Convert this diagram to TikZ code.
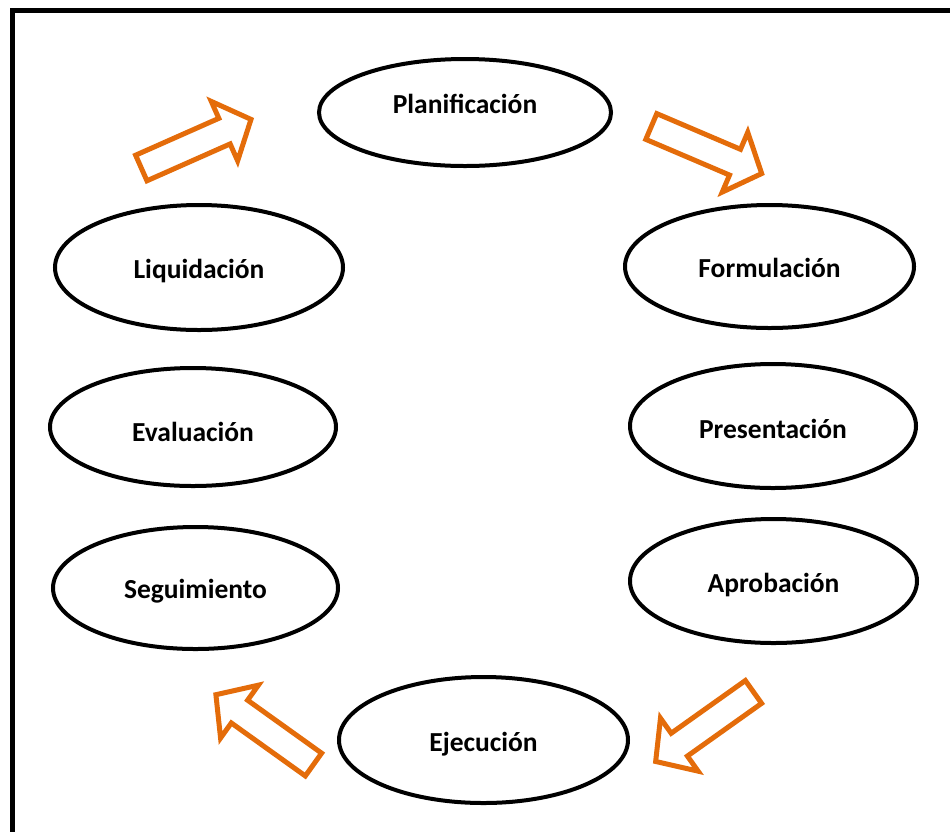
\documentclass[tikz,border=0pt]{standalone}
\usepackage{fontspec}
\setmainfont{Carlito}
\usetikzlibrary{shapes.geometric}
\definecolor{flowOrange}{HTML}{E46C0A}
\begin{document}
\begin{tikzpicture}[x=1pt,y=-1pt,
  phase/.style={ellipse, draw=black, line width=4pt, fill=white,
    inner sep=0pt, text height=22pt, text depth=0pt,
    font=\fontsize{27.5}{30}\selectfont\bfseries},
  flowline/.style={draw=flowOrange, fill=white, line width=5pt, line join=miter},
  flowarrow/.pic={
    \path[flowline] (2.5,-14) -- (93.5,-14) -- (93.5,-32.5) -- (122.5,0)
      -- (93.5,32.5) -- (93.5,14) -- (2.5,14) -- cycle;
  }]
  \useasboundingbox (0,0) rectangle (950,831);
  \clip (0,0) rectangle (950,831);

  % outer frame
  \draw[line width=5pt, line cap=rect] (12.5,840) -- (12.5,10.5) -- (960,10.5);

  % phases of the cycle
  \node[phase, minimum width=292pt, minimum height=107pt, text height=1pt]
    (plan) at (465,112.5) {Planificación};
  \node[phase, minimum width=289pt, minimum height=123pt] (form) at (769.5,266.5) {Formulación};
  \node[phase, minimum width=286pt, minimum height=124pt, text height=24pt]
    (pres) at (773,426) {Presentación};
  \node[phase, minimum width=287pt, minimum height=124pt, text height=23pt]
    (apro) at (773.5,581) {Aprobación};
  \node[phase, minimum width=289pt, minimum height=126pt] (ejec) at (483.5,740) {Ejecución};
  \node[phase, minimum width=285pt, minimum height=122pt, text height=20pt]
    (segu) at (195.5,588) {Seguimiento};
  \node[phase, minimum width=286pt, minimum height=118pt, text height=29pt]
    (eval) at (193,427) {Evaluación};
  \node[phase, minimum width=288pt, minimum height=125pt] (liqu) at (199,267.5) {Liquidación};

  % block arrows showing the direction of the cycle
  \pic[rotate=23.9]  at (139,169)     {flowarrow};
  \pic[rotate=-23.1] at (649,125.5)   {flowarrow};
  \pic[rotate=215.4] at (755.5,690.5) {flowarrow};
  \pic[rotate=144.4] at (315.5,766)   {flowarrow};
\end{tikzpicture}
\end{document}
